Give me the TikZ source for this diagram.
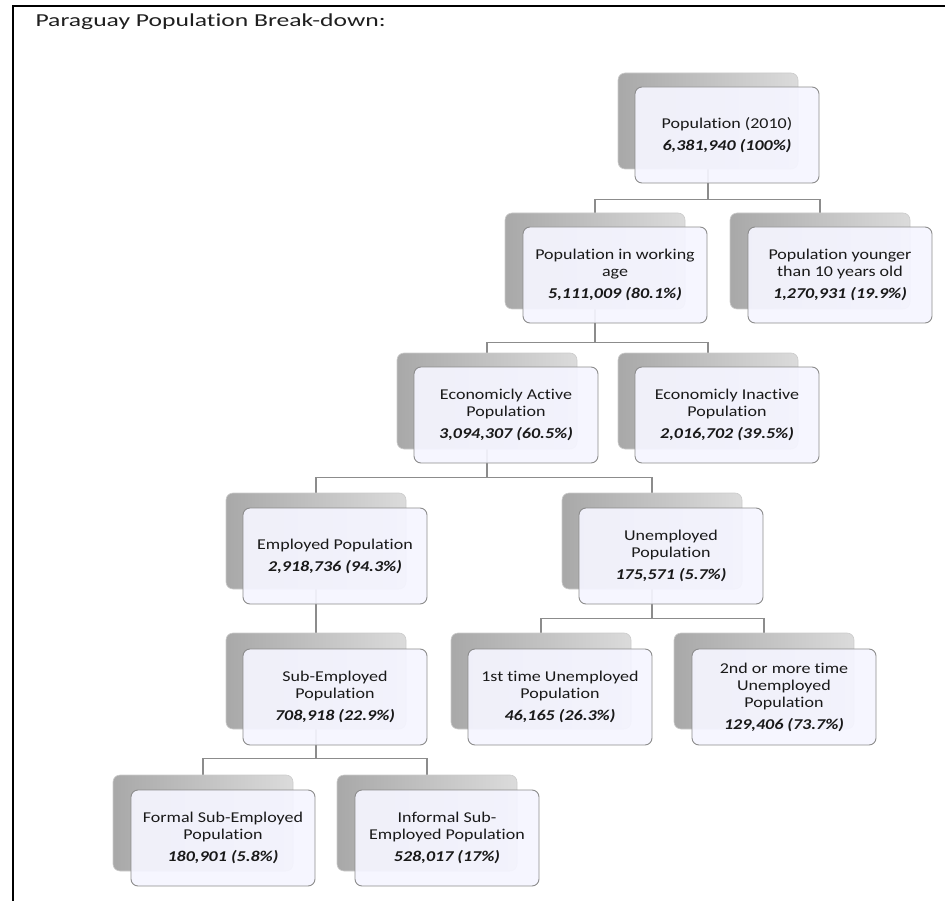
\documentclass[tikz,border=0pt]{standalone}
\usepackage{fontspec}
\setmainfont{Carlito}[FakeStretch=1.2,Ligatures=NoCommon,RawFeature={-liga;-clig;-dlig}]
\newfontfamily\titlefont{Carlito}[FakeStretch=1.4,Ligatures=NoCommon,RawFeature={-liga;-clig;-dlig}]
\usetikzlibrary{backgrounds}
\newcommand\popnum[1]{\textbf{\textit{#1}}}
\begin{document}
\begin{tikzpicture}[x=1pt,y=-1pt,
  backbox/.style={minimum width=180pt,minimum height=96pt,rounded corners=7pt,
    left color=black!34,right color=black!14,draw=black!20,line width=0.6pt,inner sep=0pt},
  frontbox/.style={minimum width=184pt,minimum height=96pt,rounded corners=7pt,
    fill=white!96!blue,fill opacity=0.93,text opacity=1,draw=black!45,line width=0.9pt,
    align=center,inner sep=2pt,font=\fontsize{15}{17}\selectfont,text=black!90},
  conn/.style={draw=black!45,line width=1.3pt},
  frame/.style={draw=black,line width=2pt}]
\useasboundingbox (0,0) rectangle (945,901);
\draw[frame] (13,901) -- (13,6.5) -- (945,6.5);
\node[anchor=base west,font=\titlefont\fontsize{18.3}{22}\selectfont,text=black!88] (title) at (32,27) {Paraguay Population Break-down:};
% level 1
\node[backbox] (pB) at (708,121) {};
\node[frontbox] (pF) at (727,135) {Population (2010)\\[5pt]\popnum{6,381,940 (100\%)}};
% level 2
\node[backbox] (wB) at (595,261) {};
\node[frontbox] (wF) at (615,275) {Population in working\\age\\[5pt]\popnum{5,111,009 (80.1\%)}};
\node[backbox] (yB) at (820,261) {};
\node[frontbox] (yF) at (840,275) {Population younger\\than 10 years old\\[5pt]\popnum{1,270,931 (19.9\%)}};
% level 3
\node[backbox] (aB) at (487,401) {};
\node[frontbox] (aF) at (506,415) {Economicly Active\\Population\\[5pt]\popnum{3,094,307 (60.5\%)}};
\node[backbox] (iB) at (708,401) {};
\node[frontbox] (iF) at (727,415) {Economicly Inactive\\Population\\[5pt]\popnum{2,016,702 (39.5\%)}};
% level 4
\node[backbox] (eB) at (316,541) {};
\node[frontbox] (eF) at (335,556) {Employed Population\\[5pt]\popnum{2,918,736 (94.3\%)}};
\node[backbox] (uB) at (652,541) {};
\node[frontbox] (uF) at (671,556) {Unemployed\\Population\\[5pt]\popnum{175,571 (5.7\%)}};
% level 5
\node[backbox] (sB) at (316,681) {};
\node[frontbox] (sF) at (335,697) {Sub-Employed\\Population\\[5pt]\popnum{708,918 (22.9\%)}};
\node[backbox] (fB) at (541,681) {};
\node[frontbox] (fF) at (560,697) {1st time Unemployed\\Population\\[5pt]\popnum{46,165 (26.3\%)}};
\node[backbox] (mB) at (764,681) {};
\node[frontbox] (mF) at (784,697) {2nd or more time\\Unemployed\\Population\\[5pt]\popnum{129,406 (73.7\%)}};
% level 6
\node[backbox] (oB) at (203,823) {};
\node[frontbox] (oF) at (223,838) {Formal Sub-Employed\\Population\\[5pt]\popnum{180,901 (5.8\%)}};
\node[backbox] (nB) at (427,823) {};
\node[frontbox] (nF) at (447,838) {Informal Sub-\\Employed Population\\[5pt]\popnum{528,017 (17\%)}};
% connectors
\begin{scope}[on background layer]
\draw[conn] (pB.center) |- ([yshift=13pt]wB.north) -- (wB.north);
\draw[conn] (pB.center) |- ([yshift=13pt]yB.north) -- (yB.north);
\draw[conn] (wB.center) |- ([yshift=10pt]aB.north) -- (aB.north);
\draw[conn] (wB.center) |- ([yshift=10pt]iB.north) -- (iB.north);
\draw[conn] (aB.center) |- ([yshift=15pt]eB.north) -- (eB.north);
\draw[conn] (aB.center) |- ([yshift=15pt]uB.north) -- (uB.north);
\draw[conn] (eB.center) -- (sB.north);
\draw[conn] (uB.center) |- ([yshift=14pt]fB.north) -- (fB.north);
\draw[conn] (uB.center) |- ([yshift=14pt]mB.north) -- (mB.north);
\draw[conn] (sB.center) |- ([yshift=16pt]oB.north) -- (oB.north);
\draw[conn] (sB.center) |- ([yshift=16pt]nB.north) -- (nB.north);
\end{scope}
\end{tikzpicture}
\end{document}
